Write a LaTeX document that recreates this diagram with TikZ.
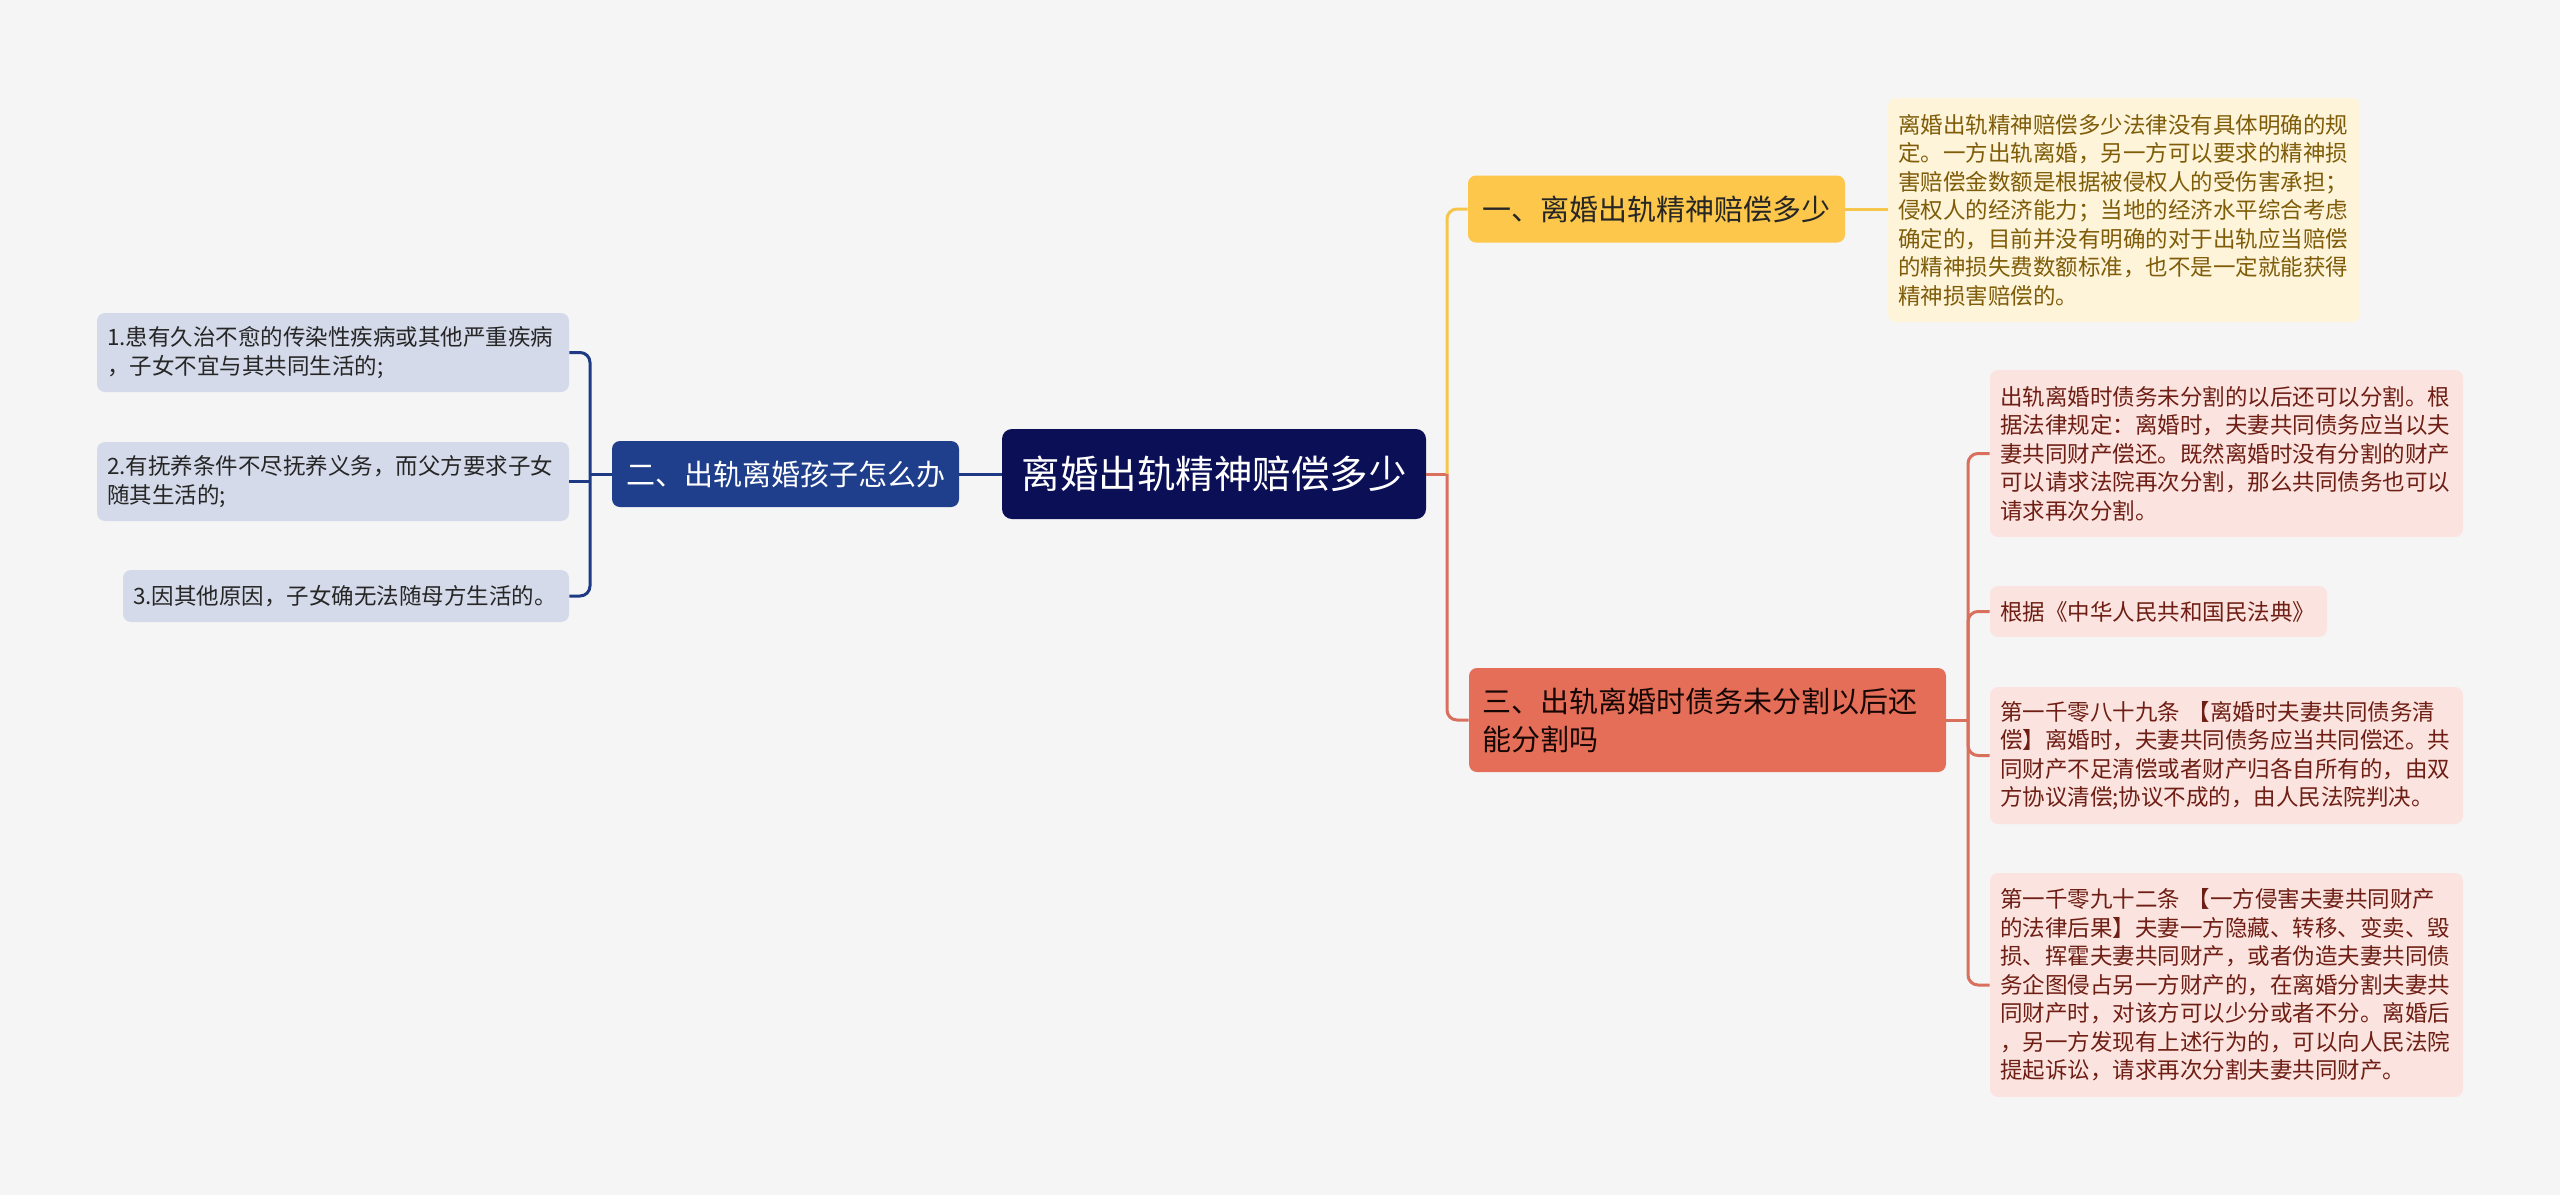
\documentclass[tikz,border=0pt]{standalone}
\usepackage{fontspec}
\setmainfont{Noto Sans CJK SC}
\definecolor{bgc}{HTML}{F5F5F5}
\definecolor{rootc}{HTML}{0B0F56}
\definecolor{bluec}{HTML}{1F3F8C}
\definecolor{bluel}{HTML}{D4DAEA}
\definecolor{bluew}{HTML}{1E3A84}
\definecolor{yelc}{HTML}{FCC74A}
\definecolor{yell}{HTML}{FEF4DA}
\definecolor{yelw}{HTML}{F6C54C}
\definecolor{yelt}{HTML}{7E5C08}
\definecolor{redc}{HTML}{E46E58}
\definecolor{redl}{HTML}{FBE4DF}
\definecolor{redw}{HTML}{D9705E}
\definecolor{redt}{HTML}{6E1E14}

\begin{document}
\begin{tikzpicture}[x=0.5pt,y=-0.5pt,
    rootbox/.style={fill=rootc, rounded corners=5pt, text=white, font=\fontsize{19.25}{23}\selectfont, inner sep=0pt},
    branch/.style={rounded corners=4pt, font=\fontsize{14.5}{19}\selectfont, inner xsep=7pt, inner ysep=0pt, align=left},
    leaf/.style={rounded corners=4pt, font=\fontsize{11.25}{14.25}\selectfont, inner xsep=5pt, inner ysep=0pt, align=left},
    bline/.style={draw=bluew, line width=1.5pt, rounded corners=5pt},
    yline/.style={draw=yelw, line width=1.5pt, rounded corners=5pt},
    rline/.style={draw=redw, line width=1.5pt, rounded corners=5pt}
]
\fill[bgc] (0,0) rectangle (2560,1195);

\node[rootbox, minimum width=212pt, minimum height=45pt] (root) at (1214,474) {离婚出轨精神赔偿多少};

\node[branch, fill=yelc, text=black!85, minimum width=188.5pt, minimum height=33.5pt] (b1) at (1656.5,209) {一、离婚出轨精神赔偿多少};
\node[branch, fill=bluec, text=white, minimum width=173.5pt, minimum height=33pt] (b2) at (785.5,474) {二、出轨离婚孩子怎么办};
\node[branch, fill=redc, text=black!80!redt, text width=225.5pt, inner xsep=6.5pt, minimum height=52pt] (b3) at (1707.5,720) {三、出轨离婚时债务未分割以后还\\能分割吗};

\node[leaf, fill=yell, text=yelt, text width=226pt, minimum height=112pt] (y1) at (2124,210) {离婚出轨精神赔偿多少法律没有具体明确的规\\定。一方出轨离婚，另一方可以要求的精神损\\害赔偿金数额是根据被侵权人的受伤害承担；\\侵权人的经济能力；当地的经济水平综合考虑\\确定的，目前并没有明确的对于出轨应当赔偿\\的精神损失费数额标准，也不是一定就能获得\\精神损害赔偿的。};

\node[leaf, fill=bluel, text=black!85, text width=226pt, minimum height=39.5pt] (l1) at (333,352.5) {1.患有久治不愈的传染性疾病或其他严重疾病\\，子女不宜与其共同生活的;};
\node[leaf, fill=bluel, text=black!85, text width=226pt, minimum height=39.5pt] (l2) at (333,481.5) {2.有抚养条件不尽抚养义务，而父方要求子女\\随其生活的;};
\node[leaf, fill=bluel, text=black!85, text width=213pt, minimum height=26pt] (l3) at (346,596) {3.因其他原因，子女确无法随母方生活的。};

\node[leaf, fill=redl, text=redt, text width=226.5pt, minimum height=83.5pt] (r1) at (2226.5,453.5) {出轨离婚时债务未分割的以后还可以分割。根\\据法律规定：离婚时，夫妻共同债务应当以夫\\妻共同财产偿还。既然离婚时没有分割的财产\\可以请求法院再次分割，那么共同债务也可以\\请求再次分割。};
\node[leaf, fill=redl, text=redt, text width=158.5pt, minimum height=25.5pt] (r2) at (2158.5,611.5) {根据《中华人民共和国民法典》};
\node[leaf, fill=redl, text=redt, text width=226.5pt, minimum height=68.5pt] (r3) at (2226.5,755.5) {第一千零八十九条 【离婚时夫妻共同债务清\\偿】离婚时，夫妻共同债务应当共同偿还。共\\同财产不足清偿或者财产归各自所有的，由双\\方协议清偿;协议不成的，由人民法院判决。};
\node[leaf, fill=redl, text=redt, text width=226.5pt, minimum height=112pt] (r4) at (2226.5,985) {第一千零九十二条 【一方侵害夫妻共同财产\\的法律后果】夫妻一方隐藏、转移、变卖、毁\\损、挥霍夫妻共同财产，或者伪造夫妻共同债\\务企图侵占另一方财产的，在离婚分割夫妻共\\同财产时，对该方可以少分或者不分。离婚后\\，另一方发现有上述行为的，可以向人民法院\\提起诉讼，请求再次分割夫妻共同财产。};

\coordinate (rj) at (1447,474);
\coordinate (lj) at (590,474);
\coordinate (rj2) at (1968,720);

\draw[rline] (root.east) -- (rj);
\draw[yline] (rj) |- (b1.west);
\draw[rline] (rj) |- (b3.west);
\draw[yline] (b1.east) -- (b1.east -| y1.west);

\draw[bline] (root.west) -- (b2.east);
\draw[bline] (b2.west) -- (lj);
\draw[bline] (lj) |- (l1.east);
\draw[bline] (lj) |- (l3.east);
\draw[bline] (l2.east) -- (l2.east -| lj);

\draw[rline] (b3.east) -- (rj2);
\draw[rline] (rj2) |- (r1.west);
\draw[rline] (rj2) |- (r2.west);
\draw[rline] (rj2) |- (r3.west);
\draw[rline] (rj2) |- (r4.west);
\end{tikzpicture}
\end{document}
